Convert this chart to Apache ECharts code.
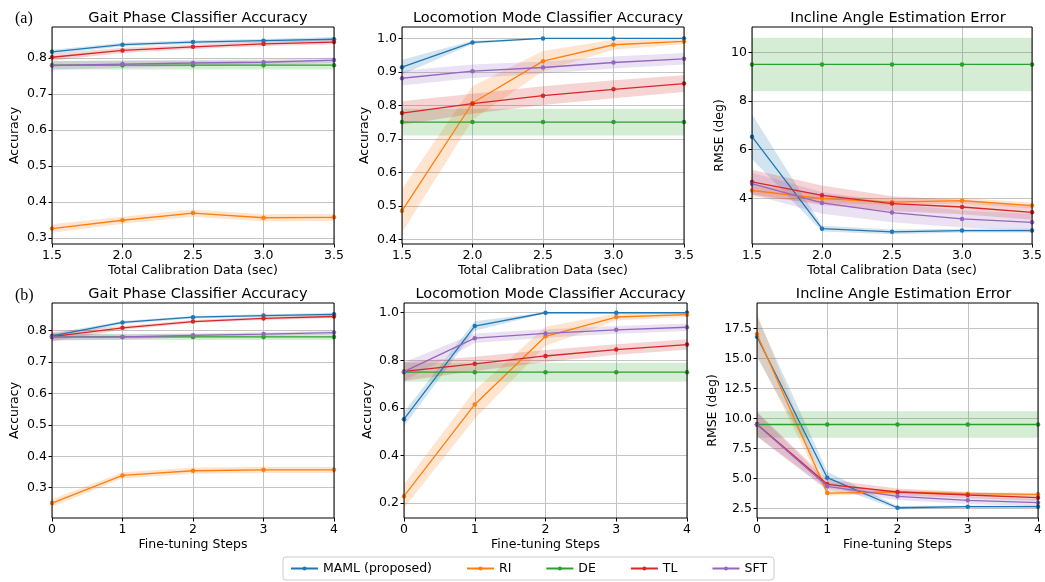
<!DOCTYPE html>
<html>
<head>
<meta charset="utf-8">
<script src="https://cdn.jsdelivr.net/npm/echarts@6/dist/echarts.min.js"></script>
<style>
  html, body { margin: 0; padding: 0; background: #fff; }
  #main { width: 1045px; height: 582px; }
</style>
</head>
<body>
<div id="main"></div>
<script>
var methods = ['MAML (proposed)', 'RI', 'DE', 'TL', 'SFT'];
var colors = ['#1f77b4', '#ff7f0e', '#2ca02c', '#d62728', '#9467bd'];
var bandColors = ['rgba(31,119,180,0.2)', 'rgba(255,127,14,0.2)', 'rgba(44,160,44,0.2)',
                  'rgba(214,39,40,0.2)', 'rgba(148,103,189,0.2)'];

var calibSec = [1.5, 2.0, 2.5, 3.0, 3.5];
var fineSteps = [0, 1, 2, 3, 4];

// tick labels
var calibTicks = [1.5, 2.0, 2.5, 3.0, 3.5];
var stepTicks = [0, 1, 2, 3, 4];
var gaitTicks = [0.3, 0.4, 0.5, 0.6, 0.7, 0.8];
var locoTicksA = [0.4, 0.5, 0.6, 0.7, 0.8, 0.9, 1.0];
var inclineTicksA = [4, 6, 8, 10];
var locoTicksB = [0.2, 0.4, 0.6, 0.8, 1.0];
var inclineTicksB = [2.5, 5.0, 7.5, 10.0, 12.5, 15.0, 17.5];

// (a) vs total calibration data, rows: MAML, RI, DE, TL, SFT
var gaitCalibMean = [
    [0.817, 0.837, 0.844, 0.848, 0.852],
    [0.326, 0.349, 0.369, 0.356, 0.357],
    [0.780, 0.780, 0.780, 0.780, 0.780],
    [0.802, 0.821, 0.831, 0.839, 0.844],
    [0.779, 0.783, 0.786, 0.788, 0.794]
];
var gaitCalibErr = [
    [0.006, 0.005, 0.005, 0.005, 0.006],
    [0.012, 0.010, 0.010, 0.010, 0.010],
    [0.012, 0.012, 0.012, 0.012, 0.012],
    [0.010, 0.007, 0.006, 0.006, 0.006],
    [0.012, 0.010, 0.009, 0.008, 0.007]
];
var locoCalibMean = [
    [0.914, 0.988, 1.000, 1.000, 1.000],
    [0.485, 0.807, 0.932, 0.981, 0.991],
    [0.750, 0.750, 0.750, 0.750, 0.750],
    [0.777, 0.805, 0.829, 0.848, 0.865],
    [0.881, 0.902, 0.913, 0.928, 0.939]
];
var locoCalibErr = [
    [0.022, 0.005, 0.001, 0.001, 0.001],
    [0.065, 0.050, 0.030, 0.015, 0.008],
    [0.040, 0.040, 0.040, 0.040, 0.040],
    [0.035, 0.030, 0.028, 0.027, 0.025],
    [0.022, 0.020, 0.018, 0.018, 0.017]
];
var inclineCalibMean = [
    [6.53, 2.75, 2.62, 2.67, 2.67],
    [4.32, 3.99, 3.84, 3.90, 3.70],
    [9.50, 9.50, 9.50, 9.50, 9.50],
    [4.67, 4.12, 3.78, 3.64, 3.42],
    [4.60, 3.81, 3.41, 3.15, 3.01]
];
var inclineCalibErr = [
    [0.92, 0.12, 0.10, 0.08, 0.08],
    [0.25, 0.18, 0.12, 0.12, 0.12],
    [1.10, 1.10, 1.10, 1.10, 1.10],
    [0.50, 0.40, 0.30, 0.30, 0.30],
    [0.45, 0.45, 0.40, 0.35, 0.35]
];

// (b) vs fine-tuning steps
var gaitStepMean = [
    [0.783, 0.826, 0.843, 0.848, 0.852],
    [0.251, 0.339, 0.354, 0.357, 0.357],
    [0.780, 0.780, 0.780, 0.780, 0.780],
    [0.781, 0.809, 0.829, 0.839, 0.845],
    [0.780, 0.780, 0.785, 0.789, 0.794]
];
var gaitStepErr = [
    [0.008, 0.005, 0.004, 0.004, 0.005],
    [0.012, 0.010, 0.010, 0.010, 0.010],
    [0.010, 0.010, 0.010, 0.010, 0.010],
    [0.015, 0.006, 0.005, 0.005, 0.005],
    [0.012, 0.008, 0.006, 0.006, 0.006]
];
var locoStepMean = [
    [0.552, 0.944, 1.000, 1.000, 1.000],
    [0.228, 0.614, 0.901, 0.982, 0.992],
    [0.750, 0.750, 0.750, 0.750, 0.750],
    [0.753, 0.785, 0.818, 0.845, 0.866],
    [0.752, 0.893, 0.913, 0.928, 0.939]
];
var locoStepErr = [
    [0.030, 0.020, 0.002, 0.002, 0.002],
    [0.050, 0.060, 0.040, 0.015, 0.010],
    [0.040, 0.040, 0.040, 0.040, 0.040],
    [0.040, 0.030, 0.025, 0.022, 0.022],
    [0.040, 0.020, 0.018, 0.016, 0.016]
];
var inclineStepMean = [
    [16.80, 5.08, 2.58, 2.67, 2.67],
    [17.00, 3.80, 3.89, 3.75, 3.70],
    [9.50, 9.50, 9.50, 9.50, 9.50],
    [9.53, 4.53, 3.89, 3.64, 3.42],
    [9.50, 4.36, 3.53, 3.20, 3.00]
];
var inclineStepErr = [
    [1.70, 0.50, 0.15, 0.10, 0.10],
    [1.70, 0.20, 0.15, 0.12, 0.12],
    [1.10, 1.10, 1.10, 1.10, 1.10],
    [1.00, 0.40, 0.30, 0.25, 0.25],
    [1.00, 0.35, 0.30, 0.30, 0.30]
];

var calibName = 'Total Calibration Data (sec)';
var stepName = 'Fine-tuning Steps';

var panels = [
    {title: 'Gait Phase Classifier Accuracy', x: calibSec, xTicks: calibTicks, xMin: 1.5, xMax: 3.5, xDigits: 1, xName: calibName,
     yName: 'Accuracy', mean: gaitCalibMean, err: gaitCalibErr, yTicks: gaitTicks, yMin: 0.283, yMax: 0.886, yStep: 0.1, yDigits: 1,
     grid: {left: 52, top: 27, width: 282, height: 217}, yGap: 31},
    {title: 'Locomotion Mode Classifier Accuracy', x: calibSec, xTicks: calibTicks, xMin: 1.5, xMax: 3.5, xDigits: 1, xName: calibName,
     yName: 'Accuracy', mean: locoCalibMean, err: locoCalibErr, yTicks: locoTicksA, yMin: 0.386, yMax: 1.034, yStep: 0.1, yDigits: 1,
     grid: {left: 402, top: 27, width: 282, height: 217}, yGap: 31},
    {title: 'Incline Angle Estimation Error', x: calibSec, xTicks: calibTicks, xMin: 1.5, xMax: 3.5, xDigits: 1, xName: calibName,
     yName: 'RMSE (deg)', mean: inclineCalibMean, err: inclineCalibErr, yTicks: inclineTicksA, yMin: 2.12, yMax: 11.04, yStep: 2, yDigits: 0,
     grid: {left: 752, top: 27, width: 282, height: 217}, yGap: 26},
    {title: 'Gait Phase Classifier Accuracy', x: fineSteps, xTicks: stepTicks, xMin: 0, xMax: 4, xDigits: 0, xName: stepName,
     yName: 'Accuracy', mean: gaitStepMean, err: gaitStepErr, yTicks: gaitTicks, yMin: 0.2035, yMax: 0.888, yStep: 0.1, yDigits: 1,
     grid: {left: 52, top: 303, width: 282, height: 215}, yGap: 31},
    {title: 'Locomotion Mode Classifier Accuracy', x: fineSteps, xTicks: stepTicks, xMin: 0, xMax: 4, xDigits: 0, xName: stepName,
     yName: 'Accuracy', mean: locoStepMean, err: locoStepErr, yTicks: locoTicksB, yMin: 0.136, yMax: 1.041, yStep: 0.2, yDigits: 1,
     grid: {left: 404, top: 303, width: 283, height: 215}, yGap: 30},
    {title: 'Incline Angle Estimation Error', x: fineSteps, xTicks: stepTicks, xMin: 0, xMax: 4, xDigits: 0, xName: stepName,
     yName: 'RMSE (deg)', mean: inclineStepMean, err: inclineStepErr, yTicks: inclineTicksB, yMin: 1.73, yMax: 19.6, yStep: 2.5, yDigits: 1,
     grid: {left: 757, top: 303, width: 283, height: 215}, yGap: 38}
];

var font = 'DejaVu Sans';
var grids = [], xAxes = [], yAxes = [], titles = [], series = [];

// shaded band: one polygon through lower edge then back along upper edge
function bandItem(color) {
    return function (params, api) {
        if (params.dataIndex !== 0) return;
        var n = params.dataInsideLength;
        var pts = [];
        for (var i = 0; i < n; i++) pts.push(api.coord([api.value(0, i), api.value(1, i)]));
        for (var j = n - 1; j >= 0; j--) pts.push(api.coord([api.value(0, j), api.value(2, j)]));
        return {
            type: 'polygon',
            shape: {points: pts},
            style: {fill: color},
            clipPath: {type: 'rect', shape: {
                x: params.coordSys.x, y: params.coordSys.y,
                width: params.coordSys.width, height: params.coordSys.height}}
        };
    };
}

panels.forEach(function (p, pi) {
    grids.push({
        left: p.grid.left, top: p.grid.top, width: p.grid.width, height: p.grid.height,
        show: true, borderColor: '#000', borderWidth: 1, backgroundColor: 'transparent', z: 10
    });
    titles.push({
        text: p.title, left: p.grid.left + p.grid.width / 2, textAlign: 'center',
        top: p.grid.top - 21,
        textStyle: {fontFamily: font, fontSize: 14.5, fontWeight: 'normal', color: '#000'}
    });
    xAxes.push({
        type: 'value', gridIndex: pi, min: p.xMin, max: p.xMax,
        name: p.xName, nameLocation: 'middle', nameGap: 20,
        nameTextStyle: {fontFamily: font, fontSize: 12.5, color: '#000'},
        axisLine: {show: false},
        axisTick: {show: true, length: 3.5, customValues: p.xTicks, lineStyle: {color: '#000', width: 1}},
        axisLabel: {customValues: p.xTicks, margin: 5, fontFamily: font, fontSize: 12.5, color: '#000',
            formatter: function (v) { return Number(v).toFixed(p.xDigits); }},
        splitLine: {show: true, lineStyle: {color: '#c4c4c4', width: 1}}
    });
    yAxes.push({
        type: 'value', gridIndex: pi, min: p.yMin, max: p.yMax,
        minInterval: p.yStep, maxInterval: p.yStep,
        name: p.yName, nameLocation: 'middle', nameGap: p.yGap,
        nameTextStyle: {fontFamily: font, fontSize: 12.5, color: '#000'},
        axisLine: {show: false},
        axisTick: {show: true, length: 3.5, customValues: p.yTicks, lineStyle: {color: '#000', width: 1}},
        axisLabel: {customValues: p.yTicks, margin: 5, fontFamily: font, fontSize: 12.5, color: '#000',
            formatter: function (v) { return Number(v).toFixed(p.yDigits); }},
        splitLine: {show: true, lineStyle: {color: '#c4c4c4', width: 1}}
    });

    methods.forEach(function (name, k) {
        var m = p.mean[k], e = p.err[k];
        series.push({
            type: 'custom', xAxisIndex: pi, yAxisIndex: pi, silent: true,
            data: p.x.map(function (x, i) { return [x, m[i] - e[i], m[i] + e[i]]; }),
            encode: {x: 0, y: [1, 2]},
            renderItem: bandItem(bandColors[k]), z: 2
        });
    });
    methods.forEach(function (name, k) {
        var m = p.mean[k];
        series.push({
            name: name, type: 'line', xAxisIndex: pi, yAxisIndex: pi,
            data: p.x.map(function (x, i) { return [x, m[i]]; }),
            symbol: 'circle', symbolSize: 4.5,
            lineStyle: {color: colors[k], width: 1.3},
            itemStyle: {color: colors[k]}, z: 3 + k
        });
    });
});

titles.push({text: '(a)', left: 10, top: 6,
    textStyle: {fontFamily: 'Liberation Serif', fontSize: 16, fontWeight: 'normal', color: '#000'}});
titles.push({text: '(b)', left: 10, top: 283,
    textStyle: {fontFamily: 'Liberation Serif', fontSize: 16, fontWeight: 'normal', color: '#000'}});

var chart = echarts.init(document.getElementById('main'), null, {renderer: 'canvas'});

option = {
    animation: false,
    backgroundColor: '#fff',
    title: titles,
    legend: {
        data: methods,
        left: 283, top: 557,
        padding: [5, 7, 5, 7],
        itemWidth: 27, itemHeight: 5, itemGap: 34,
        borderColor: '#cccccc', borderWidth: 1, borderRadius: 3,
        textStyle: {fontFamily: font, fontSize: 12.5, color: '#000'}
    },
    grid: grids,
    xAxis: xAxes,
    yAxis: yAxes,
    series: series
};

chart.setOption(option);
</script>
</body>
</html>
